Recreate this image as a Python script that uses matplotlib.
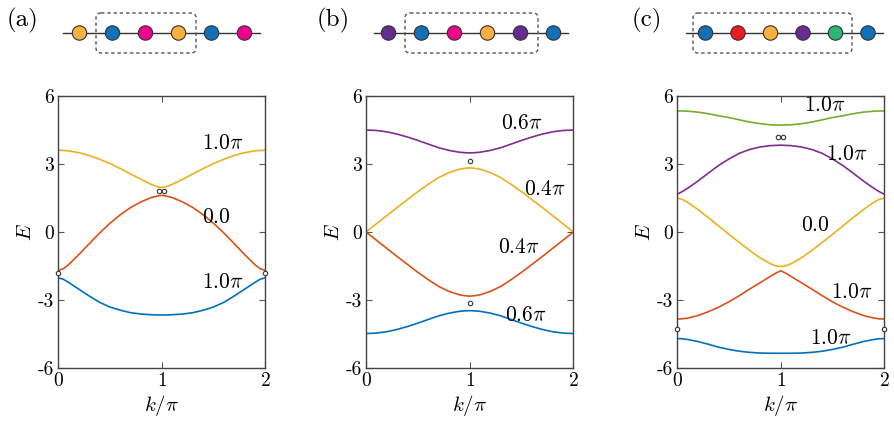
import numpy as np
import matplotlib
matplotlib.use("Agg")
import matplotlib.pyplot as plt
from matplotlib.patches import Circle, FancyBboxPatch

plt.rcParams['mathtext.fontset'] = 'cm'
plt.rcParams['axes.unicode_minus'] = False

# ---------------- data ----------------
k = [0.0, 0.05, 0.1, 0.2, 0.3, 0.4, 0.5, 0.6, 0.7, 0.8, 0.9, 0.95, 1.0,
     1.05, 1.1, 1.2, 1.3, 1.4, 1.5, 1.6, 1.7, 1.8, 1.9, 1.95, 2.0]

# panel (a)
a_orange = [3.61, 3.60, 3.58, 3.50, 3.38, 3.21, 3.02, 2.80, 2.56, 2.32, 2.10, 2.01, 1.96,
            2.01, 2.10, 2.32, 2.56, 2.80, 3.02, 3.21, 3.38, 3.50, 3.58, 3.60, 3.61]
a_red = [-1.70, -1.62, -1.45, -1.00, -0.52, -0.05, 0.38, 0.76, 1.08, 1.33, 1.52, 1.58, 1.62,
         1.58, 1.52, 1.33, 1.08, 0.76, 0.38, -0.05, -0.52, -1.00, -1.45, -1.62, -1.70]
a_blue = [-2.02, -2.08, -2.22, -2.52, -2.82, -3.10, -3.31, -3.45, -3.56, -3.62, -3.65, -3.66, -3.66,
          -3.66, -3.65, -3.62, -3.56, -3.45, -3.31, -3.10, -2.82, -2.52, -2.22, -2.08, -2.02]

# panel (b)
b_purple = [4.50, 4.49, 4.48, 4.42, 4.32, 4.19, 4.04, 3.88, 3.72, 3.60, 3.52, 3.50, 3.49,
            3.50, 3.52, 3.60, 3.72, 3.88, 4.04, 4.19, 4.32, 4.42, 4.48, 4.49, 4.50]
b_orange = [0.00, 0.18, 0.36, 0.72, 1.08, 1.43, 1.78, 2.10, 2.40, 2.62, 2.77, 2.81, 2.83,
            2.81, 2.77, 2.62, 2.40, 2.10, 1.78, 1.43, 1.08, 0.72, 0.36, 0.18, 0.00]
b_red = [0.00, -0.18, -0.36, -0.72, -1.08, -1.43, -1.78, -2.10, -2.40, -2.62, -2.77, -2.81, -2.83,
         -2.81, -2.77, -2.62, -2.40, -2.10, -1.78, -1.43, -1.08, -0.72, -0.36, -0.18, 0.00]
b_blue = [-4.48, -4.47, -4.46, -4.40, -4.30, -4.17, -4.02, -3.86, -3.70, -3.58, -3.50, -3.48, -3.47,
          -3.48, -3.50, -3.58, -3.70, -3.86, -4.02, -4.17, -4.30, -4.40, -4.46, -4.47, -4.48]

# panel (c)
c_green = [5.34, 5.34, 5.33, 5.29, 5.22, 5.13, 5.05, 4.95, 4.85, 4.78, 4.73, 4.72, 4.72,
           4.72, 4.73, 4.78, 4.85, 4.95, 5.05, 5.13, 5.22, 5.29, 5.33, 5.34, 5.34]
c_purple = [1.66, 1.78, 1.92, 2.24, 2.59, 2.93, 3.22, 3.47, 3.64, 3.75, 3.81, 3.82, 3.83,
            3.82, 3.81, 3.75, 3.64, 3.47, 3.22, 2.93, 2.59, 2.24, 1.92, 1.78, 1.66]
c_orange = [1.50, 1.44, 1.32, 1.00, 0.64, 0.27, -0.10, -0.46, -0.81, -1.14, -1.40, -1.49, -1.52,
            -1.49, -1.40, -1.14, -0.81, -0.46, -0.10, 0.27, 0.64, 1.00, 1.32, 1.44, 1.50]
c_red = [-3.84, -3.83, -3.80, -3.69, -3.52, -3.32, -3.08, -2.81, -2.52, -2.24, -1.96, -1.82, -1.71,
         -1.82, -1.96, -2.24, -2.52, -2.81, -3.08, -3.32, -3.52, -3.69, -3.80, -3.83, -3.84]
c_blue = [-4.70, -4.71, -4.74, -4.83, -4.95, -5.08, -5.18, -5.26, -5.31, -5.34, -5.35, -5.35, -5.35,
          -5.35, -5.35, -5.34, -5.31, -5.26, -5.18, -5.08, -4.95, -4.83, -4.74, -4.71, -4.70]

# in-gap state markers (k, E)
a_mark_k = [0.0, 0.975, 1.025, 2.0]
a_mark_E = [-1.83, 1.81, 1.81, -1.83]
b_mark_k = [1.0, 1.0]
b_mark_E = [3.13, -3.13]
c_mark_k = [0.0, 0.975, 1.025, 2.0]
c_mark_E = [-4.27, 4.20, 4.20, -4.27]

# band annotations (text, k, E)
a_labels = [(r'$1.0\pi$', 1.59, 3.91), (r'$0.0$', 1.53, 0.66), (r'$1.0\pi$', 1.59, -2.22)]
b_labels = [(r'$0.6\pi$', 1.50, 4.79), (r'$0.4\pi$', 1.72, 1.91),
            (r'$0.4\pi$', 1.47, -0.66), (r'$0.6\pi$', 1.54, -3.65)]
c_labels = [(r'$1.0\pi$', 1.43, 5.60), (r'$1.0\pi$', 1.64, 3.46), (r'$0.0$', 1.33, 0.29),
            (r'$1.0\pi$', 1.69, -2.63), (r'$1.0\pi$', 1.48, -4.68)]

yticks = [-6, -3, 0, 3, 6]
ytick_labels = ['-6', '-3', '0', '3', '6']
xticks = [0, 1, 2]
xtick_labels = ['0', '1', '2']

# schematic chains
site_color = {'O': '#FBB040', 'B': '#1170B8', 'M': '#EC008C', 'P': '#662D91',
              'R': '#ED1C24', 'G': '#2BB673'}
a_sites = ['O', 'B', 'M', 'O', 'B', 'M']
b_sites = ['P', 'B', 'M', 'O', 'P', 'B']
c_sites = ['B', 'R', 'O', 'P', 'G', 'B']

# ---------------- colors ----------------
C_BLUE = '#0072BD'
C_RED = '#D95319'
C_ORANGE = '#EDB120'
C_PURPLE = '#7E2F8E'
C_GREEN = '#77AC30'

W, H = 895, 432
fig = plt.figure(figsize=(W / 100, H / 100), dpi=100)

# overlay for schematics (pixel coordinates)
ov = fig.add_axes([0, 0, 1, 1])
ov.set_xlim(0, W)
ov.set_ylim(H, 0)
ov.set_axis_off()

schem = [
    # (sites, line x0, line x1, first site x, spacing, box x0, box x1, label, label x)
    (a_sites, 63, 260, 79.5, 33.0, 96, 196, '(a)', 23),
    (b_sites, 374, 568, 388.5, 33.0, 405, 538, '(b)', 333),
    (c_sites, 686, 883, 705.5, 32.5, 693, 852, '(c)', 647),
]
yc = 33
r = 7.2
for sites, lx0, lx1, sx0, dx, bx0, bx1, lab, labx in schem:
    ov.plot([lx0, lx1], [yc, yc], color='#333333', lw=1.0, zorder=1)
    box = FancyBboxPatch((bx0, 13), bx1 - bx0, 40,
                         boxstyle='round,pad=0,rounding_size=5',
                         fill=False, ec='#555555', lw=1.0, ls=(0, (2.5, 2)), zorder=3)
    ov.add_patch(box)
    for i, s in enumerate(sites):
        ov.add_patch(Circle((sx0 + i * dx, yc), r, fc=site_color[s], ec='#333333',
                            lw=0.8, zorder=2))
    ov.text(labx, 20, lab, fontsize=18, family='cmr10', ha='center', va='center')

panels = [
    (0.0648, [(a_orange, C_ORANGE), (a_red, C_RED), (a_blue, C_BLUE)],
     a_mark_k, a_mark_E, a_labels),
    (0.4089, [(b_purple, C_PURPLE), (b_orange, C_ORANGE), (b_red, C_RED), (b_blue, C_BLUE)],
     b_mark_k, b_mark_E, b_labels),
    (0.7564, [(c_green, C_GREEN), (c_purple, C_PURPLE), (c_orange, C_ORANGE),
              (c_red, C_RED), (c_blue, C_BLUE)],
     c_mark_k, c_mark_E, c_labels),
]

ax_w = 0.2318
ax_b = 1 - 368 / H
ax_h = (368 - 96) / H
for x0, bands, mk, mE, labels in panels:
    ax = fig.add_axes([x0, ax_b, ax_w, ax_h])
    for vals, col in bands:
        ax.plot(k, vals, color=col, lw=1.2)
    ax.plot(mk, mE, 'o', ms=3.2, mfc='white', mec='#333333', mew=0.8,
            clip_on=False, zorder=5)
    for txt, tk, tE in labels:
        ax.text(tk, tE, txt, fontsize=15.5, ha='center', va='center')
    ax.set_xlim(0, 2)
    ax.set_ylim(-6, 6)
    ax.set_xticks(xticks)
    ax.set_xticklabels(xtick_labels, family='cmr10', fontsize=14)
    ax.set_yticks(yticks)
    ax.set_yticklabels(ytick_labels, family='cmr10', fontsize=14)
    ax.tick_params(direction='in', length=4, width=0.8, color='#555555',
                   top=True, right=True, pad=3)
    for sp in ax.spines.values():
        sp.set_color('#444444')
        sp.set_linewidth(1.0)
    ax.set_ylabel(r'$E$', fontsize=15, labelpad=2)
    ax.set_xlabel(r'$k/\pi$', fontsize=15, labelpad=2)

fig.savefig('out.png', dpi=100)
